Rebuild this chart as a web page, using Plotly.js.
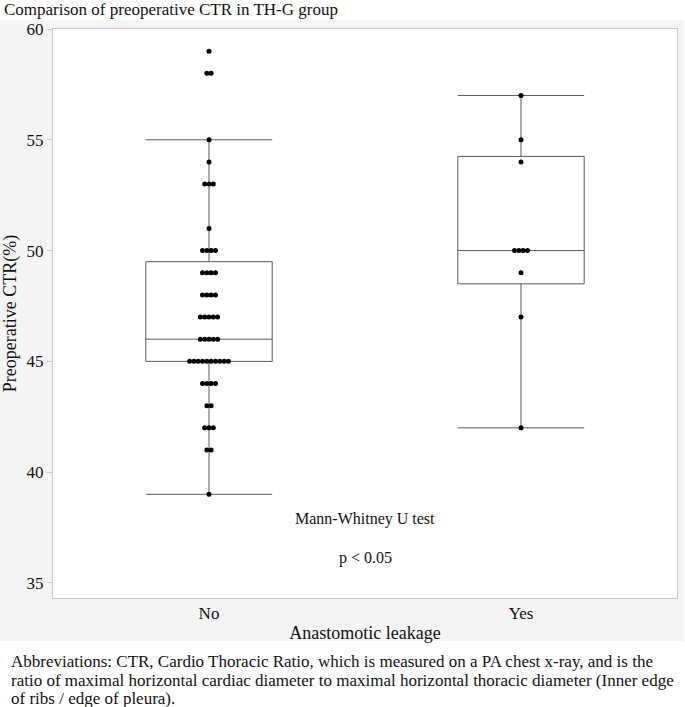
<!DOCTYPE html>
<html>
<head>
<meta charset="utf-8">
<script src="https://cdn.plot.ly/plotly-3.0.1.min.js"></script>
<style>html,body{margin:0;padding:0;background:#fff;}#chart{width:685px;height:707px;}</style>
</head>
<body>
<div id="chart"></div>
<script>
// ---- data ----
const categories = ["No", "Yes"];
const noValues = [59, 58, 58, 55, 54, 53, 53, 53, 51, 50, 50, 50, 50,
  49, 49, 49, 49, 48, 48, 48, 48, 47, 47, 47, 47, 47, 46, 46, 46, 46, 46,
  45, 45, 45, 45, 45, 45, 45, 45, 45, 45, 44, 44, 44, 44, 43, 43,
  42, 42, 42, 41, 41, 39];
const yesValues = [57, 55, 54, 50, 50, 50, 50, 49, 47, 42];
const yTicks = [35, 40, 45, 50, 55, 60];
const titleText = "Comparison of preoperative CTR in TH-G group";
const yTitle = "Preoperative CTR(%)";
const xTitle = "Anastomotic leakage";
const testLines = ["Mann-Whitney U test", "p < 0.05"];
const captionLines = [
  "Abbreviations: CTR, Cardio Thoracic Ratio, which is measured on a PA chest x-ray, and is the",
  "ratio of maximal horizontal cardiac diameter to maximal horizontal thoracic diameter (Inner edge",
  "of ribs / edge of pleura)."
];

// quantile with (n+1)p positioning
function quant(sorted, p) {
  const n = sorted.length;
  let pos = (n + 1) * p;
  if (pos < 1) pos = 1;
  if (pos > n) pos = n;
  const lo = Math.floor(pos), frac = pos - lo;
  const a = sorted[lo - 1], b = sorted[Math.min(lo, n - 1)];
  return a + frac * (b - a);
}
function stats(vals) {
  const s = vals.slice().sort((a, b) => a - b);
  const q1 = quant(s, 0.25), med = quant(s, 0.5), q3 = quant(s, 0.75);
  const iqr = q3 - q1;
  const lf = s.filter(v => v >= q1 - 1.5 * iqr)[0];
  const uf = s.filter(v => v <= q3 + 1.5 * iqr).slice(-1)[0];
  return {q1, med, q3, lf, uf};
}
const groups = [noValues, yesValues];
const st = groups.map(stats);

// swarm offsets
const dotStep = 0.0138;
const dx = [], dy = [];
groups.forEach((vals, gi) => {
  const counts = {};
  vals.forEach(v => counts[v] = (counts[v] || 0) + 1);
  Object.keys(counts).forEach(k => {
    const c = counts[k];
    for (let i = 0; i < c; i++) {
      dx.push(gi + (i - (c - 1) / 2) * dotStep);
      dy.push(Number(k));
    }
  });
});

const boxTrace = {
  type: "box",
  x: [0, 1],
  q1: st.map(s => s.q1),
  median: st.map(s => s.med),
  q3: st.map(s => s.q3),
  lowerfence: st.map(s => s.lf),
  upperfence: st.map(s => s.uf),
  width: 0.405,
  whiskerwidth: 1,
  boxpoints: false,
  fillcolor: "rgba(255,255,255,0)",
  line: {color: "#5a5a5a", width: 1},
  hoverinfo: "skip",
  showlegend: false
};
const dotTrace = {
  type: "scatter",
  mode: "markers",
  x: dx,
  y: dy,
  marker: {color: "#000", size: 5},
  hoverinfo: "skip",
  showlegend: false
};

const L = 53, R = 8, T = 29, B = 109, W = 685, H = 707;
const pw = W - L - R, ph = H - T - B;
const px = x => (x - L) / pw;
const py = y => (H - B - y) / ph;
const serif = "Liberation Serif, Times New Roman, serif";
const captionY = [661, 680, 698];

const annotations = [
  {text: titleText, xref: "paper", yref: "paper", x: px(2), y: py(9),
   xanchor: "left", yanchor: "middle", showarrow: false,
   font: {size: 17, family: serif, color: "#111"}},
  {text: testLines[0], xref: "x", yref: "paper", x: 0.5, y: py(519),
   xanchor: "center", yanchor: "middle", showarrow: false,
   font: {size: 16, family: serif, color: "#111"}},
  {text: testLines[1], xref: "x", yref: "paper", x: 0.5, y: py(558),
   xanchor: "center", yanchor: "middle", showarrow: false,
   font: {size: 16, family: serif, color: "#111"}}
];
captionLines.forEach((t, i) => annotations.push({
  text: t, xref: "paper", yref: "paper", x: px(9), y: py(captionY[i]),
  xanchor: "left", yanchor: "middle", align: "left", showarrow: false,
  font: {size: 17, family: serif, color: "#111"}
}));

const layout = {
  width: W, height: H,
  margin: {l: L, r: R, t: T, b: B},
  paper_bgcolor: "#ffffff",
  plot_bgcolor: "#ffffff",
  font: {family: serif, color: "#111"},
  showlegend: false,
  xaxis: {
    range: [-0.5, 1.5],
    tickvals: [0, 1],
    ticktext: categories,
    showgrid: false, zeroline: false,
    showline: true, mirror: true, linecolor: "#c8c8c8", linewidth: 1,
    ticks: "", tickfont: {size: 17, family: serif, color: "#111"},
    title: {text: xTitle, font: {size: 18, family: serif, color: "#111"}, standoff: 3}
  },
  yaxis: {
    range: [34.32, 60],
    tickvals: yTicks,
    showgrid: false, zeroline: false,
    showline: true, mirror: true, linecolor: "#c8c8c8", linewidth: 1,
    ticks: "outside", ticklen: 5, tickcolor: "#c8c8c8",
    tickfont: {size: 17, family: serif, color: "#111"},
    title: {text: yTitle, font: {size: 18, family: serif, color: "#111"}, standoff: 6}
  },
  shapes: [
    {type: "rect", xref: "paper", yref: "paper", layer: "below",
     x0: px(0), x1: px(684), y0: py(641), y1: py(20),
     fillcolor: "#f4f4f4", line: {width: 0}},
    {type: "rect", xref: "paper", yref: "paper", layer: "below",
     x0: 0, x1: 1, y0: 0, y1: 1,
     fillcolor: "#ffffff", line: {width: 0}}
  ],
  annotations: annotations
};

Plotly.newPlot("chart", [boxTrace, dotTrace], layout, {staticPlot: true, displayModeBar: false});
</script>
</body>
</html>
